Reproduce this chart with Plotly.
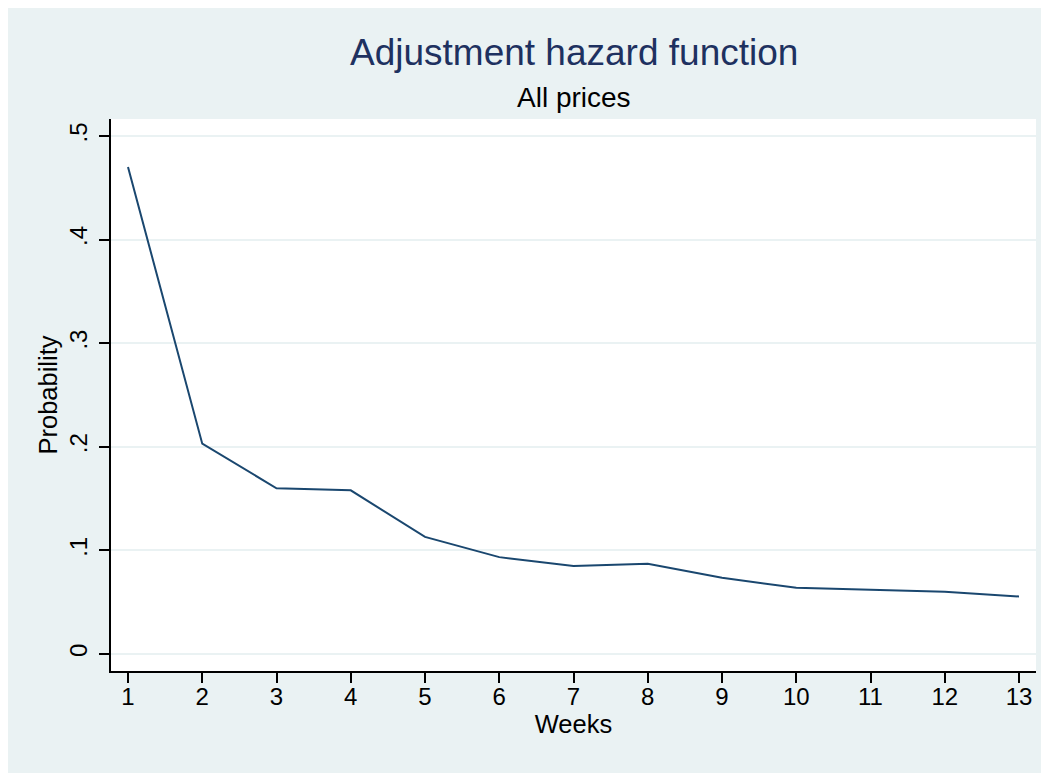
import plotly.graph_objects as go

weeks = [1, 2, 3, 4, 5, 6, 7, 8, 9, 10, 11, 12, 13]
probability = [0.470, 0.203, 0.160, 0.158, 0.113, 0.0935, 0.085, 0.087, 0.0735, 0.064, 0.062, 0.060, 0.0555]
y_tickvals = [0, 0.1, 0.2, 0.3, 0.4, 0.5]
y_ticktext = ["0", ".1", ".2", ".3", ".4", ".5"]
x_tickvals = weeks

BG = "#EAF2F3"
FONT = "Liberation Sans, Arial, sans-serif"

# page has an 8px body margin; figure runs past the window's right/bottom edges
W, H = 1049, 773
L, R, T, B = 103, 21, 111, 110
pw = W - L - R
ph = H - T - B

fig = go.Figure()
fig.add_trace(go.Scatter(
    x=weeks, y=probability, mode="lines",
    line=dict(color="#1a476f", width=2),
    showlegend=False, hoverinfo="skip",
))

fig.update_layout(
    width=W, height=H,
    margin=dict(l=L, r=R, t=T, b=B, pad=0),
    paper_bgcolor=BG,
    plot_bgcolor="white",
    font=dict(family=FONT, color="black"),
    xaxis=dict(
        range=[1 - 17 / 74.25, 13 + 17 / 74.25],
        tickmode="array", tickvals=x_tickvals,
        ticks="outside", ticklen=10, tickwidth=1.5, tickcolor="black",
        ticklabelstandoff=-7,
        showline=True, linecolor="black", linewidth=1.5,
        showgrid=False, zeroline=False,
        tickfont=dict(size=24, family=FONT, color="black"),
        title=dict(text="Weeks", font=dict(size=25.5, family=FONT, color="black"), standoff=7),
    ),
    yaxis=dict(
        range=[-17 / 1036, 0.5 + 17 / 1036],
        tickmode="array", tickvals=y_tickvals, ticktext=y_ticktext,
        tickangle=-90,
        ticks="outside", ticklen=10, tickwidth=1.5, tickcolor="black",
        ticklabelstandoff=3,
        showline=True, linecolor="black", linewidth=1.5,
        showgrid=True, gridcolor=BG, gridwidth=2,
        zeroline=False,
        tickfont=dict(size=24, family=FONT, color="black"),
        title=dict(text="Probability", font=dict(size=25.5, family=FONT, color="black"), standoff=0),
    ),
    annotations=[
        dict(text="Adjustment hazard function", xref="paper", yref="paper",
             x=0.5, y=1 + (T - 44) / ph, xanchor="center", yanchor="middle",
             showarrow=False, font=dict(size=37, family=FONT, color="#1e3160")),
        dict(text="All prices", xref="paper", yref="paper",
             x=0.5, y=1 + (T - 89) / ph, xanchor="center", yanchor="middle",
             showarrow=False, font=dict(size=28, family=FONT, color="black")),
    ],
)

fig.write_html(
    "out.html",
    post_script="document.documentElement.style.overflow='hidden';document.body.style.overflow='hidden';",
)
